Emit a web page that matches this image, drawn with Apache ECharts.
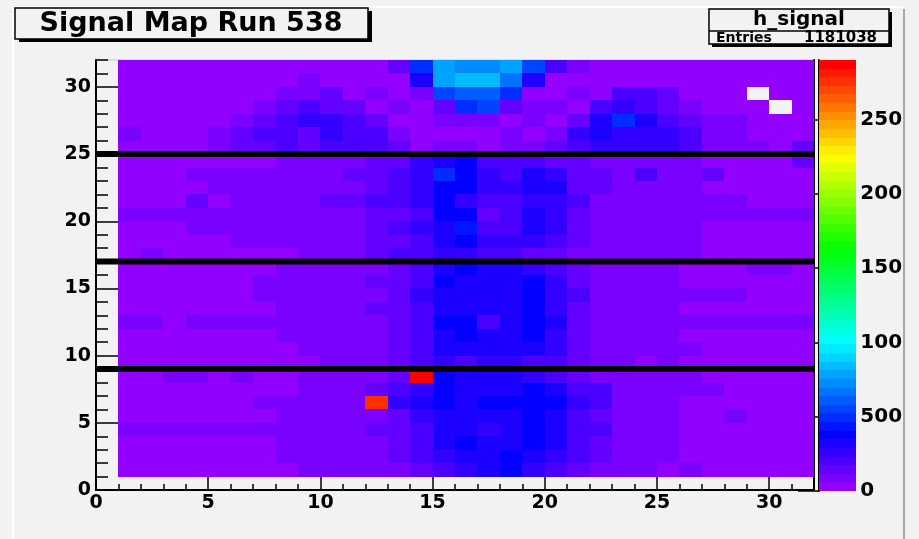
<!DOCTYPE html>
<html>
<head>
<meta charset="utf-8">
<title>Signal Map Run 538</title>
<script src="https://cdn.jsdelivr.net/npm/echarts@6/dist/echarts.min.js"></script>
<style>
  html, body { margin: 0; padding: 0; background: #f2f2f2; }
  #chart { width: 919px; height: 539px; }
</style>
</head>
<body>
<div id="chart"></div>
<script>
  // h_signal: 31 x 31 bins, x and y bins start at 1
  const xFirstBin = 1;
  const yFirstBin = 1;
  // rows from the top (y bin 31) down to y bin 1, columns x bin 1..31, 0 = empty bin
  const counts = [
    [35,35,35,35,35,35,35,35,35,35,35,35,145,495,780,725,725,780,550,205,90,35,35,35,35,35,35,35,35,35,35],
    [35,35,35,35,35,35,35,35,90,35,35,35,35,320,780,840,840,665,320,35,35,35,35,35,35,35,35,35,35,35,35],
    [35,35,35,35,35,35,35,90,90,145,35,90,35,90,550,610,610,495,35,35,90,35,205,205,145,35,35,35,0,35,35],
    [35,35,35,35,35,35,90,145,205,145,145,35,90,35,145,495,550,145,90,90,35,205,260,205,145,90,35,35,35,0,35],
    [35,35,35,35,35,90,145,205,260,260,205,145,35,35,90,90,90,35,90,35,145,320,495,320,205,145,90,90,35,35,35],
    [90,35,35,35,90,145,205,205,145,260,205,205,90,35,35,35,35,90,35,90,260,320,260,260,260,205,90,90,35,35,35],
    [35,35,35,35,90,145,145,205,145,205,205,205,145,35,90,90,35,90,90,145,205,260,260,260,260,205,90,90,90,35,145],
    [35,35,35,35,35,35,35,90,90,90,90,145,145,260,320,375,205,205,205,145,145,90,90,90,90,90,35,35,35,35,145],
    [35,35,35,90,90,90,90,90,90,90,145,145,205,260,495,375,260,205,320,260,145,145,90,205,90,90,145,35,35,35,35],
    [35,35,35,35,90,90,90,90,90,90,90,145,205,260,375,375,260,260,320,320,145,145,90,90,90,90,35,35,35,35,35],
    [35,35,35,145,35,90,90,90,90,145,145,205,205,260,375,260,205,205,260,260,205,90,90,90,90,90,90,90,35,35,35],
    [90,90,90,90,90,90,90,90,90,90,90,145,145,205,375,375,145,205,320,260,145,90,90,90,90,90,90,90,90,90,90],
    [35,35,35,90,90,90,90,90,90,90,90,145,205,260,320,435,205,205,320,260,145,90,90,90,90,90,35,35,35,35,35],
    [35,35,35,35,35,90,90,90,90,90,90,145,145,205,320,375,260,260,260,205,145,90,90,90,90,90,35,35,35,35,35],
    [35,90,35,35,35,35,35,35,90,90,90,145,205,205,260,260,205,205,145,145,90,90,90,90,90,90,35,35,35,35,35],
    [35,35,35,35,35,35,35,90,90,90,90,90,145,205,320,375,320,320,260,205,145,90,90,90,90,35,35,35,90,90,35],
    [35,35,35,35,35,35,90,90,90,90,90,145,145,205,375,320,320,320,375,260,145,90,90,90,90,35,35,35,35,35,35],
    [35,35,35,35,35,35,90,90,90,90,90,90,145,260,320,320,320,320,375,260,205,90,90,90,90,90,90,90,35,35,35],
    [35,35,35,35,35,35,35,90,90,90,90,145,145,205,320,320,320,320,375,260,145,90,90,90,90,35,35,35,35,35,35],
    [90,90,35,90,90,90,90,90,90,90,90,90,145,205,375,375,205,320,375,320,145,90,90,90,90,90,90,90,90,90,90],
    [35,35,35,35,35,35,35,90,90,90,90,90,145,205,320,375,320,320,375,260,145,90,90,90,90,35,35,35,35,35,35],
    [35,35,35,35,35,35,35,35,90,90,90,90,145,205,320,320,320,320,320,260,145,90,90,90,90,90,35,35,35,35,35],
    [35,35,35,35,35,35,35,35,35,90,90,90,145,205,260,205,260,260,205,205,145,90,90,35,90,35,35,35,35,35,35],
    [35,35,90,90,35,90,35,35,90,90,90,90,145,2880,375,320,320,320,260,205,145,90,90,90,90,90,35,35,35,35,35],
    [35,35,35,35,35,35,35,35,90,90,90,145,205,260,375,320,320,320,375,320,205,205,90,90,90,90,90,35,35,35,35],
    [35,35,35,35,35,35,90,90,90,90,90,2750,260,320,375,320,375,375,375,375,260,205,90,90,90,35,35,35,35,35,35],
    [35,35,35,35,35,35,35,90,90,90,90,90,145,260,320,320,320,320,375,320,205,145,90,90,90,35,35,90,35,35,35],
    [90,90,90,90,90,90,90,90,90,90,90,145,145,205,320,320,260,320,375,320,205,205,90,90,90,35,35,35,35,35,35],
    [35,35,35,35,35,35,35,90,90,90,90,90,145,205,320,375,320,320,375,320,205,145,90,90,90,35,35,35,35,35,35],
    [35,35,35,35,35,35,35,90,90,90,90,90,145,205,260,320,320,375,320,260,205,145,90,90,90,35,35,35,35,35,35],
    [35,35,35,35,35,35,35,35,90,90,90,90,90,145,205,260,320,375,260,205,145,90,90,90,35,90,35,35,35,35,35]
  ];
  const separatorRows = [9, 17, 25];
  const xMajorTicks = [0, 5, 10, 15, 20, 25, 30];
  const yMajorTicks = [0, 5, 10, 15, 20, 25, 30];
  const zMax = 2900;
  const colorTicks = [0, 500, 1000, 1500, 2000, 2500];
  const histName = 'h_signal';
  const entries = 1181038;
  const titleText = 'Signal Map Run 538';

  const FONT = 'DejaVu Sans';
  const BG = '#f2f2f2';
  const nLevels = 50;

  // old ROOT "pretty" palette: 50 hues from violet down to red
  function hueColor(h) {
    const f = function (n) {
      const k = (n + h / 30) % 12;
      return Math.round(255 * (0.5 - 0.5 * Math.max(-1, Math.min(k - 3, 9 - k, 1))));
    };
    return 'rgb(' + f(0) + ',' + f(8) + ',' + f(4) + ')';
  }
  const step = zMax / nLevels;
  const pieces = [];
  const colorBands = [];
  for (let i = 0; i < nLevels; i++) {
    const piece = { gte: i * step, color: hueColor(280 - (i + 1) * 280 / nLevels) };
    if (i < nLevels - 1) piece.lt = (i + 1) * step; else piece.lte = zMax;
    pieces.push(piece);
    colorBands.push([i * step, (i + 1) * step, (i + 0.5) * step]);
  }

  const cells = [];
  counts.forEach(function (row, r) {
    const y = yFirstBin + counts.length - 1 - r;
    row.forEach(function (v, c) {
      if (v > 0) cells.push([xFirstBin + c, y, v]);
    });
  });

  function renderCell(params, api) {
    const a = api.coord([api.value(0), api.value(1) + 1]);
    const b = api.coord([api.value(0) + 1, api.value(1)]);
    const x0 = Math.round(a[0]), y0 = Math.round(a[1]);
    return {
      type: 'rect',
      shape: { x: x0, y: y0, width: Math.round(b[0]) - x0, height: Math.round(b[1]) - y0 },
      style: { fill: api.visual('color') }
    };
  }

  function renderBand(params, api) {
    const a = api.coord([0, api.value(1)]);
    const b = api.coord([1, api.value(0)]);
    const x0 = Math.round(a[0]), y0 = Math.round(a[1]);
    return {
      type: 'rect',
      shape: { x: x0, y: y0, width: Math.round(b[0]) - x0, height: Math.round(b[1]) - y0 },
      style: { fill: api.visual('color') }
    };
  }

  const labelStyle = { color: '#000', fontFamily: FONT, fontWeight: 'bold', fontSize: 19 };
  const blackLine = { lineStyle: { color: '#000', width: 2 } };
  const fivesOnly = function (v) { return v % 5 === 0 ? String(v) : ''; };

  const sepSeries = separatorRows.map(function (r) {
    return {
      type: 'line', xAxisIndex: 0, yAxisIndex: 0,
      data: [[0, r], [32, r]],
      symbol: 'none', silent: true, z: 5,
      lineStyle: { color: '#000', width: 6 }
    };
  });

  const chart = echarts.init(document.getElementById('chart'));
  chart.setOption({
    backgroundColor: BG,
    animation: false,
    grid: [
      { left: 96, top: 60, width: 718, height: 430, show: true, backgroundColor: BG, borderColor: '#c4c4c4', borderWidth: 1 },
      { left: 819, top: 60, width: 40, height: 431 }
    ],
    xAxis: [
      {
        gridIndex: 0, type: 'value', min: 0, max: 32, interval: 1,
        axisLine: blackLine,
        axisTick: { inside: true, length: 6, lineStyle: { color: '#000', width: 1.5 } },
        axisLabel: Object.assign({ margin: 4, formatter: fivesOnly }, labelStyle),
        splitLine: { show: false }
      },
      {
        gridIndex: 0, type: 'value', min: 0, max: 32, interval: 5, position: 'bottom',
        axisLine: { show: false },
        axisTick: { inside: true, length: 13, customValues: xMajorTicks, lineStyle: { color: '#000', width: 1.5 } },
        axisLabel: { show: false },
        splitLine: { show: false }
      },
      { gridIndex: 1, type: 'value', min: 0, max: 1, show: false }
    ],
    yAxis: [
      {
        gridIndex: 0, type: 'value', min: 0, max: 32, interval: 1,
        axisLine: blackLine,
        axisTick: { inside: true, length: 12, lineStyle: { color: '#000', width: 1.5 } },
        axisLabel: Object.assign({ margin: 5, formatter: fivesOnly }, labelStyle),
        splitLine: { show: false }
      },
      {
        gridIndex: 0, type: 'value', min: 0, max: 32, interval: 5, position: 'left',
        axisLine: { show: false },
        axisTick: { inside: true, length: 22, customValues: yMajorTicks, lineStyle: { color: '#000', width: 1.5 } },
        axisLabel: { show: false },
        splitLine: { show: false }
      },
      {
        gridIndex: 0, type: 'value', min: 0, max: 32, position: 'right',
        axisLine: blackLine, axisTick: { show: false }, axisLabel: { show: false },
        splitLine: { show: false }
      },
      {
        gridIndex: 1, type: 'value', min: 0, max: zMax, interval: 500, position: 'right',
        axisLine: blackLine,
        axisTick: { inside: true, length: 21, customValues: colorTicks, lineStyle: { color: '#000', width: 1.5 } },
        axisLabel: Object.assign({ margin: 4, customValues: colorTicks, formatter: function (v) { return String(v); } }, labelStyle, { fontSize: 20 }),
        splitLine: { show: false }
      }
    ],
    visualMap: {
      type: 'piecewise', show: false, dimension: 2, seriesIndex: [0, 1],
      pieces: pieces
    },
    series: [
      {
        name: histName, type: 'custom', xAxisIndex: 0, yAxisIndex: 0,
        renderItem: renderCell, data: cells, encode: { x: 0, y: 1 }, silent: true
      },
      {
        type: 'custom', xAxisIndex: 2, yAxisIndex: 3,
        renderItem: renderBand, data: colorBands, silent: true
      }
    ].concat(sepSeries),
    graphic: [
      // pad border
      { type: 'line', z: 100, shape: { x1: 13, y1: 7, x2: 13, y2: 539 }, style: { stroke: '#fff', lineWidth: 2 } },
      { type: 'line', z: 100, shape: { x1: 12, y1: 7, x2: 903, y2: 7 }, style: { stroke: '#fff', lineWidth: 2 } },
      { type: 'rect', z: 100, shape: { x: 905, y: 0, width: 14, height: 539 }, style: { fill: BG } },
      { type: 'line', z: 101, shape: { x1: 904, y1: 9, x2: 904, y2: 539 }, style: { stroke: '#a8a8a8', lineWidth: 2 } },
      // title pave
      { type: 'rect', z: 100, shape: { x: 19, y: 11, width: 353, height: 31 }, style: { fill: '#000' } },
      { type: 'rect', z: 101, shape: { x: 15, y: 8, width: 353, height: 31 }, style: { fill: BG, stroke: '#000', lineWidth: 1.5 } },
      {
        type: 'text', z: 102, x: 191, y: 24,
        style: { text: titleText, fill: '#000', font: 'bold 27px "DejaVu Sans"', textAlign: 'center', textVerticalAlign: 'middle' }
      },
      // stats box
      { type: 'rect', z: 100, shape: { x: 712, y: 12, width: 180, height: 35 }, style: { fill: '#000' } },
      { type: 'rect', z: 101, shape: { x: 709, y: 9, width: 180, height: 35 }, style: { fill: BG, stroke: '#000', lineWidth: 1.5 } },
      { type: 'line', z: 102, shape: { x1: 709, y1: 31, x2: 889, y2: 31 }, style: { stroke: '#000', lineWidth: 1.5 } },
      {
        type: 'text', z: 102, x: 799, y: 20,
        style: { text: histName, fill: '#000', font: 'bold 20px "DejaVu Sans"', textAlign: 'center', textVerticalAlign: 'middle' }
      },
      {
        type: 'text', z: 102, x: 716, y: 38,
        style: { text: 'Entries', fill: '#000', font: 'bold 14px "DejaVu Sans"', textAlign: 'left', textVerticalAlign: 'middle' }
      },
      {
        type: 'text', z: 102, x: 877, y: 38,
        style: { text: String(entries), fill: '#000', font: 'bold 15px "DejaVu Sans"', textAlign: 'right', textVerticalAlign: 'middle' }
      }
    ]
  });
</script>
</body>
</html>
